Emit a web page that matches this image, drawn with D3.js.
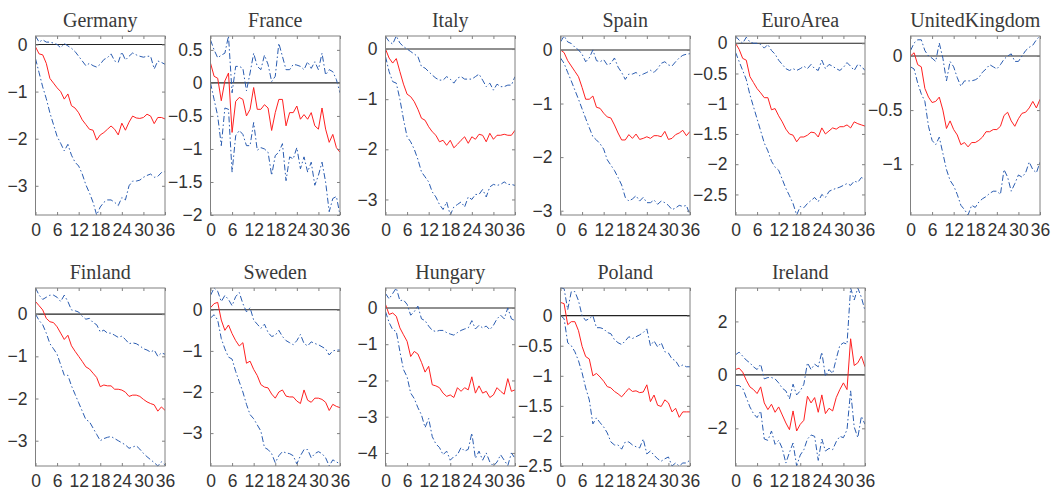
<!DOCTYPE html>
<html><head><meta charset="utf-8">
<script src="https://cdn.jsdelivr.net/npm/d3@7"></script>
<style>body{margin:0;background:#fff}svg{display:block}</style>
</head><body>
<svg id="c" width="1059" height="493"></svg>
<script>
const countries = ["Germany","France","Italy","Spain","EuroArea","UnitedKingdom","Finland","Sweden","Hungary","Poland","Ireland"];
const xTicks = [0,6,12,18,24,30,36];
const yTicks = [[0,-1,-2,-3],[0.5,0,-0.5,-1,-1.5,-2],[0,-1,-2,-3],[0,-1,-2,-3],[0,-0.5,-1,-1.5,-2,-2.5],[0,-0.5,-1],[0,-1,-2,-3],[0,-1,-2,-3],[0,-1,-2,-3,-4],[0,-0.5,-1,-1.5,-2,-2.5],[2,0,-2]];

const germanyMed = [-0.05,-0.2,-0.22,-0.4,-0.72,-0.82,-0.92,-1.0,-1.16,-1.05,-1.3,-1.35,-1.45,-1.6,-1.7,-1.8,-1.82,-2.03,-1.92,-1.87,-1.8,-1.73,-1.8,-1.92,-1.67,-1.82,-1.65,-1.52,-1.56,-1.57,-1.55,-1.48,-1.52,-1.68,-1.55,-1.55,-1.58];
const germanyUp = [0.18,0.05,0.1,0.05,0.05,0.03,0.0,-0.07,0.02,-0.03,-0.08,-0.15,-0.25,-0.35,-0.45,-0.4,-0.45,-0.48,-0.42,-0.32,-0.28,-0.2,-0.35,-0.38,-0.16,-0.33,-0.25,-0.18,-0.22,-0.25,-0.27,-0.25,-0.25,-0.52,-0.35,-0.38,-0.42];
const germanyLo = [-0.3,-0.6,-0.9,-1.15,-1.45,-1.7,-1.95,-2.1,-2.26,-2.12,-2.35,-2.5,-2.58,-2.75,-2.98,-3.15,-3.35,-3.62,-3.45,-3.35,-3.3,-3.3,-3.35,-3.42,-3.25,-3.3,-3.0,-2.9,-2.9,-2.88,-2.82,-2.78,-2.75,-2.82,-2.8,-2.72,-2.7];

const franceMed = [0.3,0.1,0.07,-0.27,0.03,0.15,-0.75,-0.28,-0.22,-0.25,-0.5,-0.4,-0.07,-0.4,-0.4,-0.33,-0.38,-0.72,-0.45,-0.25,-0.25,-0.65,-0.45,-0.45,-0.35,-0.55,-0.48,-0.55,-0.45,-0.65,-0.7,-0.38,-0.7,-0.9,-0.78,-0.98,-1.05];
const franceUp = [0.65,0.5,0.38,0.42,0.45,0.71,-0.15,0.25,0.25,0.22,-0.12,0.15,0.45,0.25,0.2,0.42,0.28,0.02,0.1,0.6,0.4,0.2,0.2,0.28,0.27,0.25,0.2,0.32,0.22,0.32,0.2,0.45,0.12,0.2,0.17,0.05,-0.15];
const franceLo = [0.0,-0.25,-0.5,-0.95,-0.38,-0.4,-1.35,-0.8,-0.72,-0.78,-0.95,-0.95,-0.6,-1.02,-0.98,-1.0,-1.05,-1.4,-1.1,-1.05,-0.92,-1.48,-1.12,-1.15,-0.98,-1.3,-1.12,-1.35,-1.2,-1.55,-1.4,-1.2,-1.5,-1.95,-1.75,-1.72,-2.0];

const italyMed = [0,-0.18,-0.28,-0.19,-0.45,-0.7,-0.9,-0.95,-1.05,-1.2,-1.38,-1.42,-1.55,-1.65,-1.72,-1.85,-1.82,-1.92,-1.82,-1.97,-1.9,-1.82,-1.75,-1.88,-1.75,-1.8,-1.7,-1.72,-1.85,-1.68,-1.8,-1.72,-1.72,-1.7,-1.72,-1.72,-1.62];
const italyUp = [0.25,0.15,0.1,0.26,0.12,0.05,0.0,-0.05,-0.1,-0.15,-0.35,-0.38,-0.45,-0.52,-0.58,-0.62,-0.62,-0.55,-0.6,-0.68,-0.58,-0.55,-0.6,-0.6,-0.6,-0.55,-0.5,-0.62,-0.75,-0.68,-0.82,-0.7,-0.75,-0.75,-0.72,-0.72,-0.55];
const italyLo = [-0.15,-0.45,-0.65,-0.68,-1.0,-1.4,-1.75,-1.85,-2.0,-2.2,-2.45,-2.55,-2.65,-2.85,-2.95,-3.1,-3.2,-3.05,-3.31,-3.15,-3.1,-3.05,-3.15,-2.95,-3.0,-2.9,-2.9,-2.8,-2.95,-2.75,-2.7,-2.72,-2.7,-2.65,-2.7,-2.7,-2.72];

const spainMed = [0,-0.05,-0.2,-0.3,-0.4,-0.5,-0.7,-0.92,-0.92,-0.86,-1.07,-1.09,-1.18,-1.25,-1.27,-1.4,-1.55,-1.68,-1.68,-1.58,-1.65,-1.57,-1.67,-1.65,-1.62,-1.65,-1.6,-1.6,-1.62,-1.52,-1.67,-1.65,-1.58,-1.55,-1.5,-1.6,-1.52];
const spainUp = [0.15,0.26,0.15,0.12,0.05,0.0,-0.08,-0.22,-0.15,0.0,-0.2,-0.22,-0.18,-0.28,-0.25,-0.15,-0.32,-0.42,-0.55,-0.45,-0.45,-0.42,-0.48,-0.45,-0.42,-0.38,-0.42,-0.35,-0.25,-0.22,-0.28,-0.3,-0.22,-0.15,-0.1,-0.08,-0.07];
const spainLo = [-0.15,-0.25,-0.42,-0.58,-0.75,-0.92,-1.1,-1.28,-1.45,-1.62,-1.68,-1.75,-1.85,-2.05,-2.15,-2.25,-2.38,-2.52,-2.75,-2.82,-2.78,-2.72,-2.82,-2.75,-2.85,-2.85,-2.8,-2.88,-2.82,-2.85,-2.9,-2.98,-2.95,-2.9,-2.92,-2.9,-3.08];

const euroMed = [0,-0.1,-0.25,-0.28,-0.55,-0.65,-0.75,-0.82,-0.9,-0.9,-1.1,-1.08,-1.2,-1.3,-1.42,-1.5,-1.52,-1.63,-1.55,-1.55,-1.52,-1.47,-1.48,-1.55,-1.4,-1.5,-1.45,-1.4,-1.42,-1.38,-1.38,-1.35,-1.4,-1.3,-1.33,-1.35,-1.37];
const euroUp = [0.12,0.05,0.0,0.1,0.02,0.0,0.0,-0.02,-0.08,-0.02,-0.12,-0.18,-0.28,-0.35,-0.42,-0.45,-0.42,-0.45,-0.42,-0.38,-0.42,-0.35,-0.42,-0.45,-0.28,-0.42,-0.35,-0.38,-0.42,-0.45,-0.4,-0.32,-0.38,-0.45,-0.35,-0.38,-0.45];
const euroLo = [-0.15,-0.3,-0.45,-0.6,-0.85,-1.05,-1.25,-1.45,-1.65,-1.78,-1.95,-2.05,-2.1,-2.25,-2.4,-2.52,-2.65,-2.84,-2.7,-2.72,-2.65,-2.6,-2.55,-2.62,-2.5,-2.55,-2.45,-2.42,-2.4,-2.38,-2.35,-2.32,-2.35,-2.28,-2.3,-2.22,-2.25];

const ukMed = [0,0.03,-0.08,-0.1,-0.3,-0.38,-0.43,-0.42,-0.38,-0.5,-0.67,-0.6,-0.68,-0.73,-0.82,-0.8,-0.84,-0.8,-0.8,-0.78,-0.75,-0.7,-0.7,-0.68,-0.68,-0.65,-0.55,-0.52,-0.6,-0.65,-0.58,-0.53,-0.52,-0.48,-0.42,-0.48,-0.4];
const ukUp = [0.05,0.12,0.15,0.15,0.05,0.0,-0.02,-0.05,0.12,-0.02,-0.23,-0.05,-0.1,-0.2,-0.28,-0.23,-0.23,-0.23,-0.22,-0.2,-0.15,-0.12,-0.08,-0.1,-0.12,-0.08,-0.03,0.0,0.02,-0.05,-0.05,0.0,0.05,0.08,0.1,0.15,0.185];
const ukLo = [-0.1,-0.12,-0.25,-0.35,-0.42,-0.65,-0.78,-0.82,-0.75,-0.9,-1.05,-1.15,-1.2,-1.28,-1.38,-1.42,-1.47,-1.38,-1.4,-1.35,-1.32,-1.3,-1.27,-1.25,-1.25,-1.28,-1.05,-1.12,-1.25,-1.18,-1.1,-1.12,-1.08,-0.98,-1.05,-1.08,-0.98];

const finlandMed = [0.3,0.2,0.1,-0.1,-0.18,-0.2,-0.3,-0.45,-0.6,-0.5,-0.75,-0.88,-1.0,-1.12,-1.25,-1.3,-1.4,-1.5,-1.72,-1.68,-1.7,-1.7,-1.78,-1.78,-1.8,-1.85,-1.95,-1.92,-1.92,-1.95,-2.02,-2.08,-2.12,-2.15,-2.3,-2.2,-2.28];
const finlandUp = [0.62,0.45,0.35,0.4,0.45,0.45,0.4,0.3,0.45,0.3,0.1,0.08,0.05,-0.05,-0.12,-0.1,-0.2,-0.25,-0.42,-0.38,-0.45,-0.45,-0.5,-0.55,-0.52,-0.6,-0.7,-0.68,-0.7,-0.75,-0.82,-0.85,-0.9,-0.85,-1.0,-0.92,-0.95];
const finlandLo = [0.0,-0.15,-0.25,-0.45,-0.7,-0.82,-0.95,-1.2,-1.45,-1.45,-1.7,-1.9,-2.1,-2.3,-2.5,-2.55,-2.7,-2.85,-3.0,-2.95,-2.92,-2.9,-2.95,-3.0,-3.05,-3.1,-3.18,-3.15,-3.12,-3.2,-3.3,-3.38,-3.45,-3.52,-3.6,-3.5,-3.58];

const swedenMed = [0.05,0.15,0.18,-0.25,-0.5,-0.37,-0.58,-0.75,-0.88,-0.8,-1.3,-1.25,-1.45,-1.6,-1.82,-1.88,-1.9,-2.05,-2.15,-2.0,-1.95,-2.1,-2.12,-2.12,-2.22,-2.28,-1.95,-2.2,-2.25,-2.15,-2.15,-2.18,-2.25,-2.45,-2.3,-2.35,-2.38];
const swedenUp = [0.35,0.53,0.45,0.2,0.35,0.25,0.1,0.32,0.42,0.15,-0.05,0.05,-0.25,-0.35,-0.45,-0.35,-0.55,-0.65,-0.62,-0.5,-0.65,-0.75,-0.8,-0.85,-0.75,-0.6,-0.82,-0.88,-0.78,-0.82,-0.85,-0.9,-0.95,-1.1,-1.0,-0.98,-0.98];
const swedenLo = [-0.2,-0.12,-0.25,-0.7,-0.95,-1.15,-1.2,-1.5,-1.75,-2.0,-2.3,-2.55,-2.65,-2.8,-2.95,-3.35,-3.4,-3.5,-3.72,-3.55,-3.45,-3.48,-3.5,-3.55,-3.75,-3.55,-3.4,-3.4,-3.6,-3.5,-3.45,-3.5,-3.6,-3.8,-3.65,-3.7,-3.75];

const hungaryMed = [0.1,-0.18,-0.14,-0.23,-0.55,-0.74,-0.92,-1.34,-1.2,-1.27,-1.5,-1.77,-1.61,-2.12,-2.15,-2.2,-2.35,-2.44,-2.4,-2.47,-2.2,-2.3,-2.2,-2.26,-1.9,-2.35,-2.15,-2.35,-2.3,-2.47,-2.4,-2.2,-2.3,-2.38,-1.95,-2.3,-2.26];
const hungaryUp = [0.4,0.25,0.4,0.55,0.2,0.22,0.1,-0.2,-0.1,0.05,-0.3,-0.35,-0.5,-0.62,-0.65,-0.62,-0.62,-0.68,-0.72,-0.75,-0.68,-0.62,-0.58,-0.55,-0.35,-0.58,-0.48,-0.55,-0.5,-0.6,-0.48,-0.3,-0.2,-0.3,0.0,-0.3,-0.35];
const hungaryLo = [-0.1,-0.4,-0.6,-0.65,-1.2,-1.7,-1.9,-2.35,-2.5,-2.75,-2.95,-3.3,-3.05,-3.55,-3.75,-3.85,-4.05,-3.95,-4.2,-4.1,-4.05,-3.85,-3.95,-3.9,-3.45,-4.15,-3.95,-4.2,-4.0,-4.25,-4.36,-4.25,-4.05,-4.2,-4.35,-4.0,-4.15];

const polandMed = [0.22,0.2,-0.15,-0.1,-0.1,-0.25,-0.51,-0.68,-0.72,-1.0,-0.96,-1.02,-1.09,-1.18,-1.2,-1.26,-1.3,-1.35,-1.28,-1.21,-1.26,-1.25,-1.28,-1.27,-1.15,-1.43,-1.32,-1.49,-1.51,-1.4,-1.45,-1.6,-1.54,-1.69,-1.6,-1.6,-1.6];
const polandUp = [0.46,0.45,0.1,0.4,0.4,0.25,0.0,-0.08,-0.05,0.0,-0.2,-0.2,-0.22,-0.28,-0.3,-0.4,-0.45,-0.48,-0.42,-0.35,-0.38,-0.35,-0.32,-0.28,-0.22,-0.5,-0.42,-0.52,-0.45,-0.6,-0.62,-0.72,-0.75,-0.85,-0.82,-0.85,-0.85];
const polandLo = [0.0,-0.05,-0.45,-0.5,-0.6,-0.75,-0.95,-1.2,-1.4,-1.8,-1.7,-1.78,-1.85,-1.95,-2.1,-2.15,-2.15,-2.22,-2.1,-2.1,-2.15,-2.18,-2.2,-2.05,-2.3,-2.25,-2.32,-2.38,-2.42,-2.38,-2.35,-2.5,-2.45,-2.5,-2.45,-2.45,-2.4];

const irelandMed = [0.2,0.25,0.1,-0.2,-0.45,-0.55,-0.7,-0.45,-1.05,-1.3,-1.1,-1.4,-1.2,-1.5,-1.8,-2.05,-1.35,-2.1,-1.85,-1.7,-0.8,-1.05,-0.85,-1.4,-0.75,-1.45,-1.25,-1.35,-0.85,-0.55,-0.3,-0.55,1.35,0.35,0.45,0.7,0.3];
const irelandUp = [0.75,0.85,0.7,0.55,0.45,0.3,0.2,0.4,-0.15,-0.1,-0.1,-0.15,-0.3,-0.5,-0.6,-0.9,-0.35,-0.75,-0.6,-0.35,0.45,0.2,0.4,0.3,0.85,-0.05,0.2,0.05,0.6,1.1,1.2,1.15,3.25,2.8,3.25,2.9,2.4];
const irelandLo = [-0.4,-0.4,-0.5,-0.85,-1.2,-1.45,-1.6,-1.35,-2.4,-2.45,-2.1,-2.6,-2.45,-2.75,-3.3,-2.9,-2.55,-3.41,-3.0,-2.8,-2.4,-2.25,-2.3,-3.2,-2.4,-2.85,-2.75,-2.8,-2.5,-2.3,-2.35,-2.05,-0.6,-1.95,-2.35,-1.55,-1.85];

const medians = [germanyMed,franceMed,italyMed,spainMed,euroMed,ukMed,finlandMed,swedenMed,hungaryMed,polandMed,irelandMed];
const uppers = [germanyUp,franceUp,italyUp,spainUp,euroUp,ukUp,finlandUp,swedenUp,hungaryUp,polandUp,irelandUp];
const lowers = [germanyLo,franceLo,italyLo,spainLo,euroLo,ukLo,finlandLo,swedenLo,hungaryLo,polandLo,irelandLo];

const svg = d3.select("#c");
const W = 129.5;
const lefts = [35.5,210.5,385.5,560.5,735.5,910.5];
const tops = [36, 288];
const heights = [179, 178];
const axisCol = "#808080", textCol = "#333333";
const blue = "#2a5cb0", red = "#ff2020";

countries.forEach((name, k) => {
  const row = Math.floor(k / 6), col = k % 6;
  const x0 = lefts[col], y0 = tops[row], H = heights[row];
  const g = svg.append("g").attr("transform", `translate(${x0},${y0})`);
  const all = uppers[k].concat(lowers[k], medians[k], [0]);
  const x = d3.scaleLinear().domain([0,36]).range([0,W]);
  const y = d3.scaleLinear().domain([d3.min(all), d3.max(all)]).range([H,0]);
  const line = d3.line().x((d,i)=>x(i)).y(d=>y(d));

  const cid = "clip"+k;
  g.append("clipPath").attr("id",cid).append("rect").attr("x",0).attr("y",-1).attr("width",W).attr("height",H+2);
  const pl = g.append("g").attr("clip-path",`url(#${cid})`);

  pl.append("line").attr("x1",0).attr("x2",W).attr("y1",y(0)).attr("y2",y(0))
    .attr("stroke","#222").attr("stroke-width",1.1);
  [uppers[k], lowers[k]].forEach(s => {
    pl.append("path").datum(s).attr("d",line).attr("fill","none")
      .attr("stroke",blue).attr("stroke-width",1).attr("stroke-dasharray","6,2.5,1.5,2.5");
  });
  pl.append("path").datum(medians[k]).attr("d",line).attr("fill","none")
    .attr("stroke",red).attr("stroke-width",1);

  g.append("rect").attr("x",0).attr("y",0).attr("width",W).attr("height",H)
    .attr("fill","none").attr("stroke",axisCol).attr("stroke-width",1);

  const xa = g.append("g").attr("transform",`translate(0,${H})`)
    .call(d3.axisBottom(x).tickValues(xTicks).tickSize(-3).tickPadding(9).tickFormat(d3.format("d")));
  const xt = g.append("g").call(d3.axisTop(x).tickValues(xTicks).tickSize(-3).tickFormat(""));
  const ya = g.append("g")
    .call(d3.axisLeft(y).tickValues(yTicks[k]).tickSize(-3).tickPadding(8).tickFormat(d => d3.format("")(d)));
  const yr = g.append("g").attr("transform",`translate(${W},0)`)
    .call(d3.axisRight(y).tickValues(yTicks[k]).tickSize(-3).tickFormat(""));
  [xa,xt,ya,yr].forEach(a => {
    a.select(".domain").remove();
    a.selectAll(".tick line").attr("stroke",axisCol);
    a.selectAll("text").attr("fill",textCol).style("font-family","'Liberation Sans', Arial, sans-serif").style("font-size","17.5px");
  });
  xa.selectAll("text").attr("dy","0.71em");

  g.append("text").attr("x",W/2).attr("y",-9).attr("text-anchor","middle")
    .style("font-family","'Liberation Serif', 'Times New Roman', serif").style("font-size","20px")
    .attr("fill","#3a3a3a")
    .text(name);
});
</script>
</body></html>
